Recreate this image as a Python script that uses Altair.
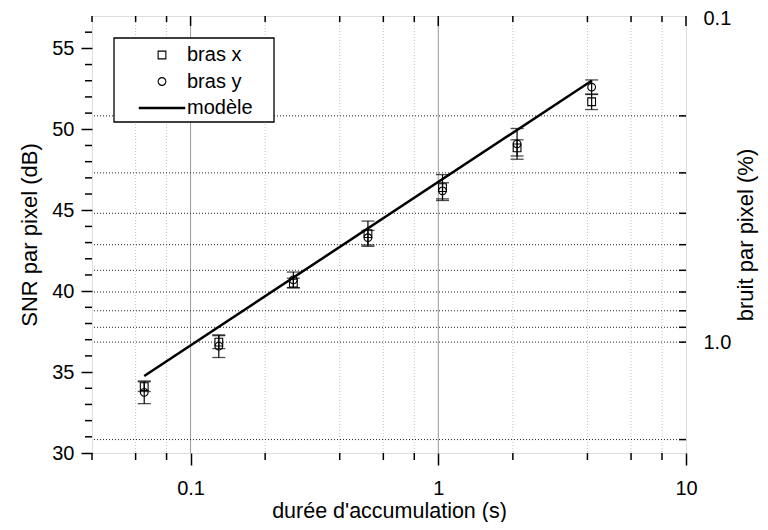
import math
import altair as alt
import pandas as pd

# ---------------- data ----------------
durations = [0.065, 0.13, 0.26, 0.52, 1.04, 2.08, 4.16]          # s
snr_bras_x = [34.1, 36.85, 40.5, 43.55, 46.4, 48.85, 51.7]       # dB
err_bras_x = [0.3, 0.4, 0.3, 0.78, 0.8, 0.5, 0.48]
snr_bras_y = [33.75, 36.6, 40.7, 43.3, 46.2, 49.1, 52.6]         # dB
err_bras_y = [0.7, 0.7, 0.48, 0.45, 0.5, 0.95, 0.45]
model_x = [0.065, 4.16]
model_snr = [34.76, 53.0]

series_names = ["bras x", "bras y", "modèle"]

x_major = [0.1, 1, 10]
x_minor = [0.04, 0.06, 0.08, 0.2, 0.4, 0.6, 0.8, 2, 4, 6, 8]
snr_major = [30, 35, 40, 45, 50, 55]
snr_minor = [31, 32, 33, 34, 36, 37, 38, 39, 41, 42, 43, 44, 46, 47, 48, 49, 51, 52, 53, 54, 56]
noise_ticks = [0.2, 0.3, 0.4, 0.5, 0.6, 0.7, 0.8, 0.9, 1.0, 2.0]   # % (right axis)
noise_labels = [0.1, 1.0]
SNR_AT_1PCT = 36.85   # dB where bruit = 1 %

# ---------------- layout ----------------
W, H = 594, 437
FONT = "Liberation Sans"
X_DOM = [0.04, 10]
Y_DOM = [30, 57]

def noise_to_snr(n):
    return SNR_AT_1PCT - 20 * math.log10(n)

def snr_to_noise(s):
    return 10 ** ((SNR_AT_1PCT - s) / 20)

xscale = alt.Scale(type="log", domain=X_DOM, nice=False)
yscale = alt.Scale(domain=Y_DOM, nice=False, zero=False)

xaxis = alt.Axis(values=x_major, format="~g", tickSize=12, tickWidth=1.5, tickColor="black",
                 labelPadding=13, labelFlush=False, labelFont=FONT, labelFontSize=20, labelColor="black",
                 title="durée d'accumulation (s)", titleFont=FONT, titleFontSize=21.5,
                 titleFontWeight="normal", titleColor="black", titlePadding=2,
                 grid=False, domain=False)
yaxis = alt.Axis(values=snr_major, tickSize=11, tickWidth=1.5, tickColor="black",
                 labelPadding=7, labelFlush=False, labelFont=FONT, labelFontSize=20, labelColor="black",
                 title="SNR par pixel (dB)", titleFont=FONT, titleFontSize=22,
                 titleFontWeight="normal", titleColor="black", titlePadding=10,
                 grid=False, domain=False)

X = alt.X("x:Q", scale=xscale, axis=xaxis)
Y = alt.Y("snr:Q", scale=yscale, axis=yaxis)

# ---------------- tables ----------------
pts = pd.concat([
    pd.DataFrame({"x": durations, "snr": snr_bras_x, "err": err_bras_x, "serie": "bras x"}),
    pd.DataFrame({"x": durations, "snr": snr_bras_y, "err": err_bras_y, "serie": "bras y"}),
], ignore_index=True)
pts["lo"] = pts["snr"] - pts["err"]
pts["hi"] = pts["snr"] + pts["err"]
caps = pd.concat([
    pts[["x", "lo"]].rename(columns={"lo": "snr"}),
    pts[["x", "hi"]].rename(columns={"hi": "snr"}),
], ignore_index=True)
model = pd.DataFrame({"x": model_x, "snr": model_snr})

vgrid_minor = pd.DataFrame({"x": [v for v in x_minor if v > X_DOM[0]]})
vgrid_major = pd.DataFrame({"x": [v for v in x_major if v < X_DOM[1]]})
hgrid = pd.DataFrame({"snr": [noise_to_snr(n) for n in noise_ticks]})
xminor_df = pd.DataFrame({"x": x_minor})
xmajor_df = pd.DataFrame({"x": x_major})
yminor_df = pd.DataFrame({"snr": snr_minor})
right_df = pd.DataFrame({"noise": noise_labels})
legend_box_df = pd.DataFrame({"box": ["legend"]})

# ---------------- layers ----------------
g_minor = alt.Chart(vgrid_minor).mark_rule(color="#c4c4c4", strokeDash=[1, 2], strokeWidth=1).encode(x=X)
g_major = alt.Chart(vgrid_major).mark_rule(color="#9a9a9a", strokeWidth=1).encode(x=X)
g_h = alt.Chart(hgrid).mark_rule(color="#222222", strokeDash=[1, 2], strokeWidth=1).encode(y=Y)

# frame of the legend (legend entries themselves come from the shape scale below)
legend_box = alt.Chart(legend_box_df).mark_rect(fill="white", stroke="black", strokeWidth=1.3).encode(
    x=alt.value(22), x2=alt.value(182), y=alt.value(22), y2=alt.value(106))

t_bottom_minor = alt.Chart(xminor_df).mark_rule(color="black", strokeWidth=1.5).encode(
    x=X, y=alt.value(H), y2=alt.value(H + 7))
t_top_minor = alt.Chart(xminor_df).mark_rule(color="black", strokeWidth=1.5).encode(
    x=X, y=alt.value(0), y2=alt.value(6))
t_top_major = alt.Chart(xmajor_df).mark_rule(color="black", strokeWidth=1.5).encode(
    x=X, y=alt.value(0), y2=alt.value(10))
t_left_minor = alt.Chart(yminor_df).mark_rule(color="black", strokeWidth=1.5).encode(
    y=Y, x=alt.value(-7), x2=alt.value(0))
t_right = alt.Chart(hgrid).mark_rule(color="black", strokeWidth=1.5).encode(
    y=Y, x=alt.value(W - 7), x2=alt.value(W))

line = alt.Chart(model).mark_line(color="black", strokeWidth=2.5).encode(x=X, y=Y)

bars = alt.Chart(pts).mark_rule(color="black", strokeWidth=1.2).encode(
    x=X, y=alt.Y("lo:Q", scale=yscale, axis=yaxis), y2="hi:Q")
capm = alt.Chart(caps).mark_tick(color="black", orient="horizontal", size=13, thickness=1.3).encode(x=X, y=Y)

# legend: the "modèle" entry is a thick horizontal stroke drawn as three close parallel lines
line_symbol = "M-6,-0.16H6M-6,0H6M-6,0.16H6"
legend = alt.Legend(title=None, orient="none", legendX=22, legendY=23,
                    labelFont=FONT, labelFontSize=20, labelColor="black",
                    symbolSize=60, symbolStrokeColor="black", symbolFillColor="white",
                    symbolStrokeWidth=1.1, symbolOffset=32,
                    labelOffset=15, rowPadding=6.5, padding=6)
points = alt.Chart(pts).mark_point(filled=False, color="black", size=60, opacity=1, strokeWidth=1.1).encode(
    x=X, y=Y,
    shape=alt.Shape("serie:N", scale=alt.Scale(domain=series_names, range=["square", "circle", line_symbol]),
                    legend=legend),
)

main = alt.layer(g_minor, g_major, g_h, legend_box, t_bottom_minor, t_top_minor, t_top_major,
                 t_left_minor, t_right, line, bars, capm, points)

right_axis = alt.Chart(right_df).mark_point(opacity=0).encode(
    y=alt.Y("noise:Q",
            scale=alt.Scale(type="log", domain=[snr_to_noise(Y_DOM[1]), snr_to_noise(Y_DOM[0])],
                            reverse=True, nice=False),
            axis=alt.Axis(orient="right", values=noise_labels, format=".1f", tickSize=0,
                          labelPadding=17, labelFlush=False, labelFont=FONT, labelFontSize=20,
                          labelColor="black",
                          title="bruit par pixel (%)", titleFont=FONT, titleFontSize=22,
                          titleFontWeight="normal", titleColor="black", titleAngle=270,
                          titlePadding=27, grid=False, domain=False))
)

chart = alt.layer(main, right_axis).resolve_scale(y="independent").properties(
    width=W, height=H,
    autosize=alt.AutoSizeParams(type="none"),
    padding={"left": 84, "top": 8, "right": 74, "bottom": 69},
).configure_view(stroke="black", strokeWidth=2.2).configure(background="white")

chart.save("out.html", embed_options={"renderer": "svg", "actions": False})
